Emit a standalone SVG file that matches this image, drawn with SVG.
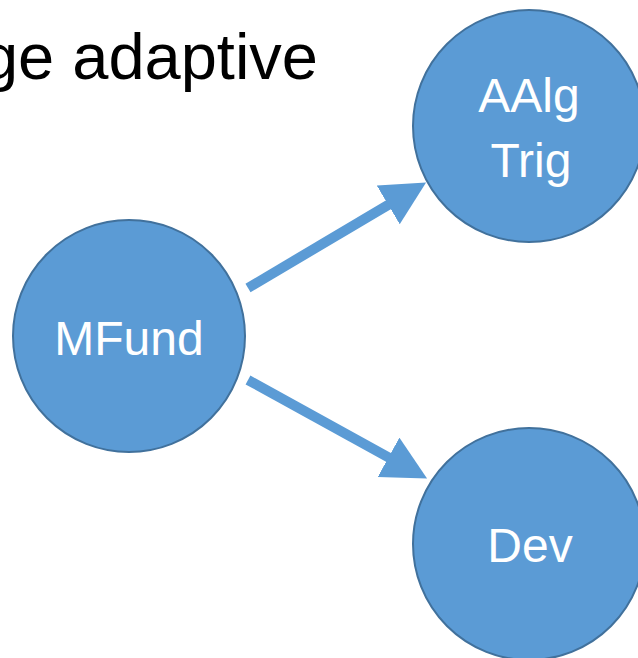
<svg xmlns="http://www.w3.org/2000/svg" width="638" height="658" viewBox="0 0 638 658">
<style>
.node{fill:#5B9BD5;stroke:#41719C;stroke-width:2}
.lbl{font-family:"Liberation Sans",Arial,sans-serif;font-size:48px;fill:#FFFFFF;text-anchor:middle}
.title{font-family:"Liberation Sans",Arial,sans-serif;font-size:65px;fill:#000000;text-anchor:end}
.edge{stroke:#5B9BD5;stroke-width:10;fill:none}
</style>
<defs>
<marker id="ah" markerUnits="userSpaceOnUse" markerWidth="46" markerHeight="46" refX="1" refY="22.5" orient="auto" viewBox="0 0 46 46">
<path d="M0,0 L44,22.5 L0,45 Z" fill="#5B9BD5"/>
</marker>
</defs>
<text class="title" x="318" y="79">ge adaptive</text>
<g id="connectors">
<line class="edge" x1="248" y1="288" x2="389.1" y2="204.4" marker-end="url(#ah)"/>
<line class="edge" x1="248" y1="380" x2="389.4" y2="457.8" marker-end="url(#ah)"/>
</g>
<g id="node-mfund">
<circle class="node" cx="129" cy="336" r="116"/>
<text class="lbl" x="129" y="355">MFund</text>
</g>
<g id="node-aalg">
<circle class="node" cx="529" cy="126" r="116"/>
<text class="lbl" x="529" y="112">AAlg</text>
<text class="lbl" x="531" y="177">Trig</text>
</g>
<g id="node-dev">
<circle class="node" cx="529" cy="544" r="116"/>
<text class="lbl" x="530" y="562">Dev</text>
</g>
</svg>
